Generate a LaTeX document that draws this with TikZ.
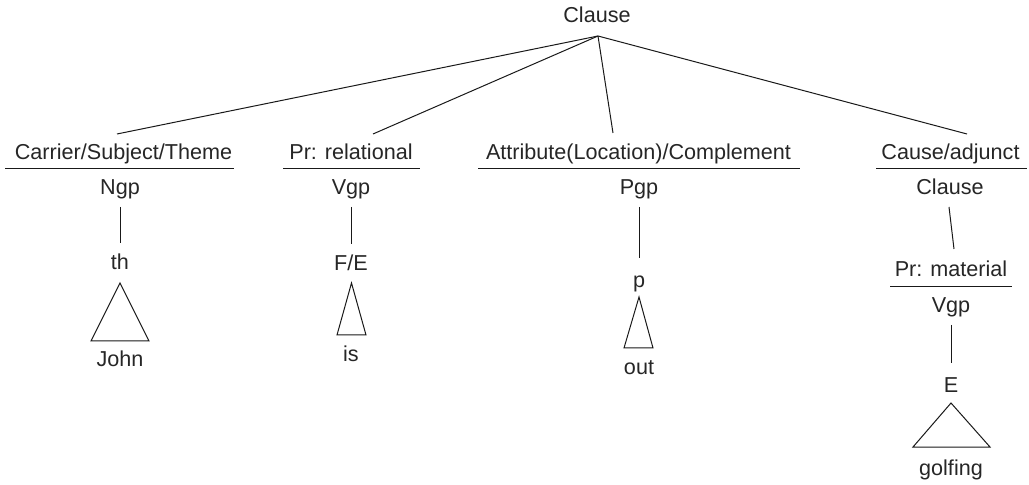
\documentclass[tikz,border=0pt]{standalone}
\usepackage{fontspec}
\setmainfont{Liberation Sans}
\begin{document}
\begin{tikzpicture}[x=1bp,y=-1bp,
  lbl/.style={anchor=base,inner sep=0pt,text=black!85,font=\fontsize{21.6bp}{26bp}\selectfont},
  ln/.style={line width=1bp,black!90}]
\useasboundingbox (0,0) rectangle (1029,485);
% labels
\node[lbl] (root) at (597,23) {Clause};
\node[lbl] (c1) at (123.5,160) {Carrier/Subject/Theme};
\node[lbl] (c2) at (351,160) {Pr: relational};
\node[lbl] (c3) at (638.5,160) {Attribute(Location)/Complement};
\node[lbl] (c4) at (950.5,160) {Cause/adjunct};
\node[lbl] (n1) at (120,195) {Ngp};
\node[lbl] (n2) at (351,195) {Vgp};
\node[lbl] (n3) at (639,195) {Pgp};
\node[lbl] (n4) at (950,195) {Clause};
\node[lbl] (t1) at (120,270) {th};
\node[lbl] (t2) at (351,271) {F/E};
\node[lbl] (t3) at (639,288) {p};
\node[lbl] (m4) at (951,277) {Pr: material};
\node[lbl] (v4) at (951,313) {Vgp};
\node[lbl] (t4) at (951,392) {E};
\node[lbl] (w1) at (120,367) {John};
\node[lbl] (w2) at (351,362) {is};
\node[lbl] (w3) at (639,375) {out};
\node[lbl] (w4) at (951,475) {golfing};
% connector ends
\coordinate (apex) at (598,36);
\coordinate (e1) at (117,134);
\coordinate (e2) at (373,134);
\coordinate (e3) at (613,133);
\coordinate (e4) at (967,134);
\draw[ln] (apex) -- (e1);
\draw[ln] (apex) -- (e2);
\draw[ln] (apex) -- (e3);
\draw[ln] (apex) -- (e4);
% underlines
\coordinate (u1a) at (5,169);   \coordinate (u1b) at (234,169);
\coordinate (u2a) at (283,169); \coordinate (u2b) at (420,169);
\coordinate (u3a) at (478,169); \coordinate (u3b) at (800,169);
\coordinate (u4a) at (876,169); \coordinate (u4b) at (1027,169);
\coordinate (u5a) at (890,287); \coordinate (u5b) at (1012,287);
\draw[ln] (u1a) -- (u1b);
\draw[ln] (u2a) -- (u2b);
\draw[ln] (u3a) -- (u3b);
\draw[ln] (u4a) -- (u4b);
\draw[ln] (u5a) -- (u5b);
% vertical connectors
\coordinate (s1a) at (120,207); \coordinate (s1b) at (120,243);
\coordinate (s2a) at (351,207); \coordinate (s2b) at (351,244);
\coordinate (s3a) at (639,207); \coordinate (s3b) at (639,258);
\coordinate (s4a) at (949,207); \coordinate (s4b) at (954,249);
\coordinate (s5a) at (951,325); \coordinate (s5b) at (951,363);
\draw[ln] (s1a) -- (s1b);
\draw[ln] (s2a) -- (s2b);
\draw[ln] (s3a) -- (s3b);
\draw[ln] (s4a) -- (s4b);
\draw[ln] (s5a) -- (s5b);
% triangles
\coordinate (r1a) at (120,283);   \coordinate (r1b) at (91,341);  \coordinate (r1c) at (149,341);
\coordinate (r2a) at (351.5,283); \coordinate (r2b) at (337,335); \coordinate (r2c) at (366,335);
\coordinate (r3a) at (639,297);   \coordinate (r3b) at (624,348); \coordinate (r3c) at (653,348);
\coordinate (r4a) at (951,403);   \coordinate (r4b) at (913,447); \coordinate (r4c) at (990,447);
\draw[ln,line join=miter] (r1a) -- (r1b) -- (r1c) -- cycle;
\draw[ln,line join=miter] (r2a) -- (r2b) -- (r2c) -- cycle;
\draw[ln,line join=miter] (r3a) -- (r3b) -- (r3c) -- cycle;
\draw[ln,line join=miter] (r4a) -- (r4b) -- (r4c) -- cycle;
\end{tikzpicture}
\end{document}
